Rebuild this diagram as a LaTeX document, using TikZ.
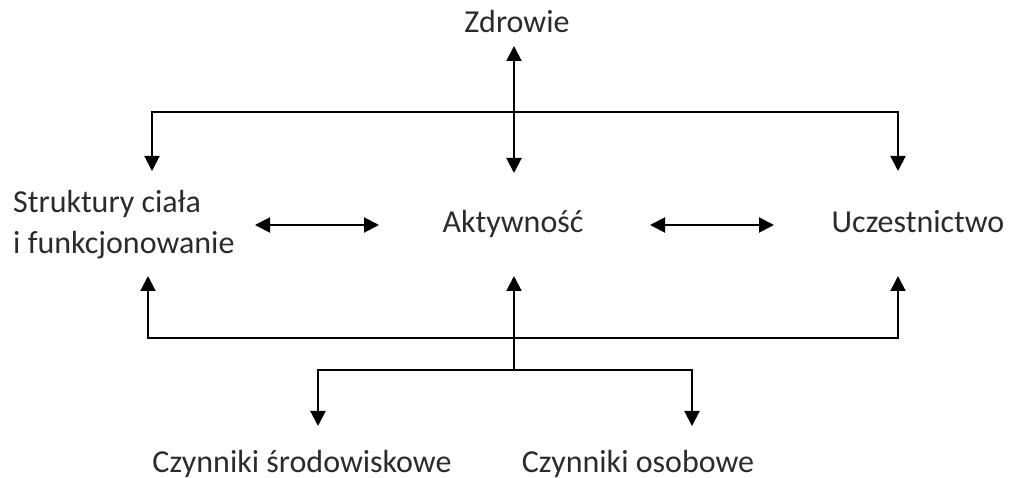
\documentclass[tikz,border=0pt]{standalone}
\usepackage{fontspec}
\setmainfont{Carlito}
\usetikzlibrary{arrows.meta}
\definecolor{txt}{HTML}{2B2B2B}
\begin{document}
\begin{tikzpicture}[x=1pt,y=-1pt,
  lbl/.style={font=\fontsize{32}{41}\selectfont, text=txt, inner sep=0pt},
  conn/.style={line width=2pt, draw=black},
  onetip/.style={conn,-{Triangle[width=15pt,length=15pt]}},
  twotip/.style={conn,{Triangle[width=15pt,length=15pt]}-{Triangle[width=15pt,length=15pt]}}]
\useasboundingbox (0,0) rectangle (1010,478);
% text nodes
\node[lbl, anchor=base] (zdr) at (517,33) {Zdrowie};
\node[lbl, anchor=base] (akt) at (513,233) {Aktywność};
\node[lbl, anchor=base] (ucz) at (918,233) {Uczestnictwo};
\node[lbl, anchor=base west, align=left] (str) at (13,254) {Struktury ciała\\i funkcjonowanie};
\node[lbl, anchor=base] (srod) at (302,472) {Czynniki środowiskowe};
\node[lbl, anchor=base] (osob) at (638,472) {Czynniki osobowe};
% connector points
\coordinate (zt) at (514,46);
\coordinate (zb) at (514,173);
\coordinate (tl) at (152,171);
\coordinate (tlc) at (152,112);
\coordinate (trc) at (898,112);
\coordinate (tr) at (898,171);
\coordinate (sa) at (255,225);
\coordinate (sb) at (379,225);
\coordinate (ua) at (650,225);
\coordinate (ub) at (774,225);
\coordinate (bl) at (148,276);
\coordinate (blc) at (148,338);
\coordinate (brc) at (898,338);
\coordinate (br) at (898,276);
\coordinate (cm) at (514,276);
\coordinate (cj) at (514,370);
\coordinate (ll) at (318,426);
\coordinate (llc) at (318,370);
\coordinate (lrc) at (692,370);
\coordinate (lr) at (692,426);
% connectors
\draw[twotip] (zt) -- (zb);
\draw[twotip] (tl) -- (tlc) -- (trc) -- (tr);
\draw[twotip] (sa) -- (sb);
\draw[twotip] (ua) -- (ub);
\draw[twotip] (bl) -- (blc) -- (brc) -- (br);
\draw[onetip] (cj) -- (cm);
\draw[twotip] (ll) -- (llc) -- (lrc) -- (lr);
\end{tikzpicture}
\end{document}
